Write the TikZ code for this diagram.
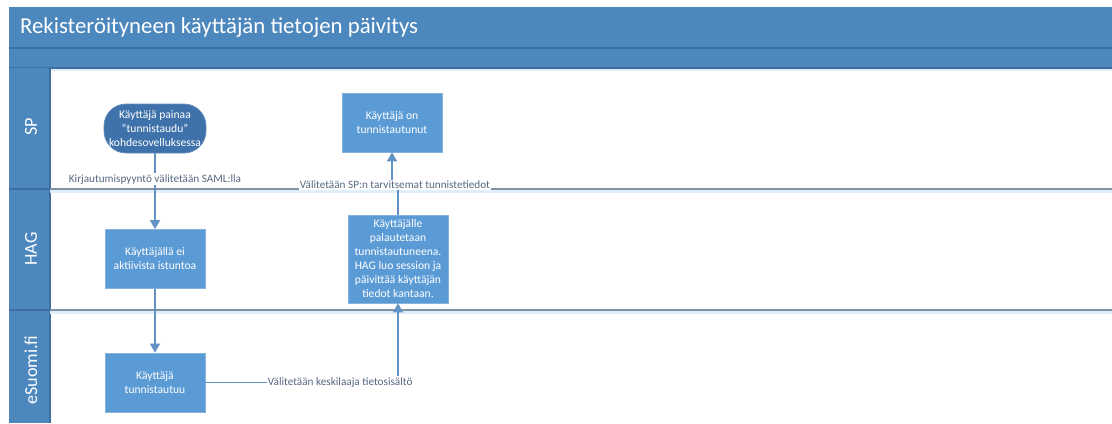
\documentclass[tikz,border=0pt]{standalone}
\usepackage{fontspec}
\setmainfont{Carlito}
\usetikzlibrary{arrows.meta,positioning}

\definecolor{band}{RGB}{76,135,189}
\definecolor{bandline}{RGB}{62,110,160}
\definecolor{boxblue}{RGB}{91,155,213}
\definecolor{startblue}{RGB}{63,114,170}
\definecolor{flow}{RGB}{98,146,198}
\definecolor{sepgray}{RGB}{128,146,162}
\definecolor{glow}{RGB}{224,237,250}
\definecolor{labeltext}{RGB}{86,104,128}

\begin{document}
\begin{tikzpicture}[x=0.5pt,y=-0.5pt,>={Triangle[width=5pt,length=4.5pt]},
    every node/.style={align=center,font=\fontsize{5.8}{7}\selectfont},
    box/.style={draw=boxblue!75!white,fill=boxblue,text=white,minimum width=50pt,minimum height=29.5pt,inner sep=1pt},
    startbox/.style={box,fill=startblue,draw=startblue!80!white,minimum height=24.5pt,minimum width=51pt,rounded corners=11pt},
    lane/.style={text=white,rotate=90,font=\fontsize{9.1}{9}\selectfont},
    flowline/.style={draw=flow,line width=0.75pt},
    flowlabel/.style={fill=white,text=labeltext,inner sep=0.6pt,font=\fontsize{5.6}{6}\selectfont}]
    \useasboundingbox (0,0) rectangle (1112,423);
    \fill[white] (0,0) rectangle (1112,423);
    % title and header bands
    \fill[band] (9,7) rectangle (1112,68);
    \fill[glow] (50,68) rectangle (1112,71);
    \draw[bandline,line width=0.6pt] (9,48) -- (1112,48);
    \draw[bandline,line width=0.6pt] (9,68) -- (1112,68);
    \node[anchor=west,text=white,font=\fontsize{11.4}{12}\selectfont] (title) at (13,28) {Rekisteröityneen käyttäjän tietojen päivitys};
    % lane column
    \fill[band] (9,68) rectangle (50,423);
    \draw[bandline,line width=0.6pt] (50,68) -- (50,423);
    \foreach \y in {189,310} {
      \fill[glow] (50,\y) rectangle (1112,\y+4);
      \draw[bandline,line width=0.6pt] (9,\y) -- (50,\y);
      \draw[sepgray,line width=0.8pt] (50,\y) -- (1112,\y);
    }
    \node[lane] (sp) at (31,127) {SP};
    \node[lane] (hag) at (31,249) {HAG};
    \node[lane] (esuomi) at (31,370) {eSuomi.fi};
    % steps
    \node[startbox] (s) at (155,128.5) {Käyttäjä painaa\\“tunnistaudu”\\kohdesovelluksessa};
    \node[box] (ok) at (392,122.5) {Käyttäjä on\\tunnistautunut};
    \node[box] (ei) at (155,259) {Käyttäjällä ei\\aktiivista istuntoa};
    \node[box,minimum height=44pt] (pal) at (398,259) {Käyttäjälle\\palautetaan\\tunnistautuneena.\\HAG luo session ja\\päivittää käyttäjän\\tiedot kantaan.};
    \node[box] (tun) at (155,382.5) {Käyttäjä\\tunnistautuu};
    % flows
    \draw[flowline,->] (s) -- node[flowlabel,pos=0.34] {Kirjautumispyyntö välitetään SAML:lla} (ei);
    \draw[flowline,->] (ei) -- (tun);
    \draw[flowline,->] (tun.east) -- node[flowlabel,pos=0.7] {Välitetään keskilaaja tietosisältö} (398,382.5) -- (pal.south);
    \draw[flowline,->] (pal.north) -- (398,185) -- node[flowlabel] {Välitetään SP:n tarvitsemat tunnistetiedot} (392,185) -- (ok.south);
  \end{tikzpicture}
\end{document}
